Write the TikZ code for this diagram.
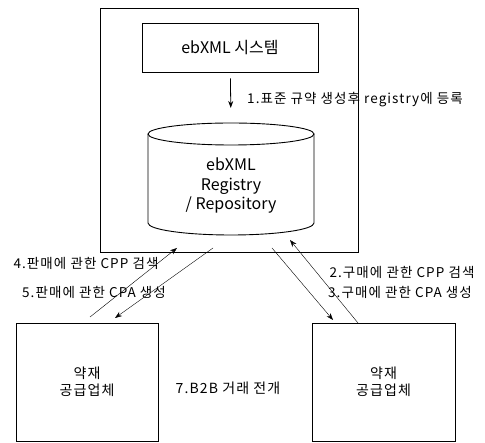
\documentclass[tikz,border=0pt]{standalone}
\usepackage{fontspec}
\setmainfont{Noto Sans CJK KR}
\newfontfamily\lblfont[LetterSpace=8]{Noto Sans CJK KR}
\usetikzlibrary{arrows.meta}
\setlength{\lineskiplimit}{-100pt}

\begin{document}
\begin{tikzpicture}[x=1pt, y=-1pt, >={Stealth[length=7pt, width=5pt]},
	box/.style = {draw, line width=0.9pt, inner sep=0pt},
	lbl/.style = {font=\lblfont\fontsize{13.5}{15}\selectfont, inner sep=0pt},
	firm/.style = {box, minimum height=118pt, align=center,
		font=\lblfont\fontsize{14}{19}\selectfont}]
	\useasboundingbox (0,0) rectangle (485,443);
	% ebXML side
	\node[box, minimum width=258pt, minimum height=244pt] (sys) at (229,130) {};
	\node[box, minimum width=176pt, minimum height=49pt, font=\fontsize{16}{19}\selectfont] (ebxml) at (230,47.5) {ebXML 시스템};
	\draw[line width=0.9pt] (231,134) ellipse [x radius=83, y radius=11];
	\draw[line width=0.9pt] (148,134) -- (148,223) arc[start angle=180, end angle=0, x radius=83, y radius=12] -- (314,134);
	\node[align=center, font=\fontsize{16}{19.5}\selectfont] (reg) at (231,186) {ebXML\\Registry\\/ Repository};
	\coordinate (regtop) at (231,123);
	\draw[->, line width=0.8pt, shorten <=6pt, shorten >=15pt] (ebxml) -- (regtop);
	\node[lbl, anchor=west] (l1) at (247,100) {1.표준 규약 생성후 registry에 등록};
	% suppliers
	\node[firm, minimum width=142pt] (seller) at (87,382) {약재\\[-2pt]공급업체};
	\node[firm, minimum width=143pt] (buyer) at (383.5,382) {약재\\[-2pt]공급업체};
	\node[lbl, font=\lblfont\fontsize{14}{16}\selectfont] (l7) at (228,388) {7.B2B 거래 전개};
	% messages
	\coordinate (a4) at (90,317);
	\coordinate (b4) at (177,248);
	\coordinate (a5) at (213,248);
	\coordinate (b5) at (115,318);
	\coordinate (a3) at (272,248);
	\coordinate (b3) at (333,320);
	\coordinate (a2) at (358,323);
	\coordinate (b2) at (290,240);
	\draw[->] (a4) -- (b4);
	\draw[->] (a5) -- (b5);
	\draw[->] (a3) -- (b3);
	\draw[->] (a2) -- (b2);
	\node[lbl] (l4) at (86,263) {4.판매에 관한 CPP 검색};
	\node[lbl] (l5) at (94,292) {5.판매에 관한 CPA 생성};
	\node[lbl] (l2) at (402,272) {2.구매에 관한 CPP 검색};
	\node[lbl] (l3) at (400,292) {3.구매에 관한 CPA 생성};
\end{tikzpicture}
\end{document}
